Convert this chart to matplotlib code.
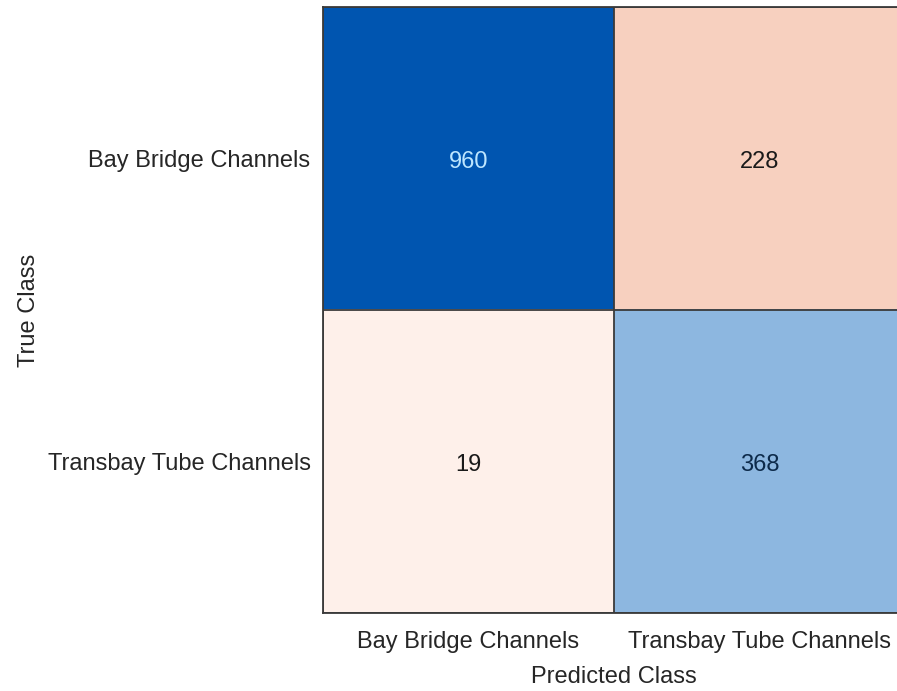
import matplotlib.pyplot as plt
import numpy as np
from matplotlib.colors import LinearSegmentedColormap, Normalize

plt.rcParams['font.family'] = ['Liberation Sans', 'DejaVu Sans']

classes = ["Bay Bridge Channels", "Transbay Tube Channels"]
counts = np.array([[960, 228],
                   [19, 368]])

# diagonal in blue, off-diagonal in red, both scaled by the largest count
diag_cmap = LinearSegmentedColormap.from_list("diag", ["#E6F5FF", "#0055B0"])
off_cmap = LinearSegmentedColormap.from_list("off", ["#FFF3EE", "#E0622A"])
norm = Normalize(0, counts.max())

n = len(classes)
rgb = np.zeros((n, n, 3))
for i in range(n):
    for j in range(n):
        cmap = diag_cmap if i == j else off_cmap
        rgb[i, j] = cmap(norm(counts[i, j]))[:3]

fig = plt.figure(figsize=(8.97, 6.91), dpi=100)
ax = fig.add_axes([323 / 897, 78 / 691, 582 / 897, 606 / 691])
ax.imshow(rgb, aspect="auto", interpolation="nearest")

for i in range(n):
    for j in range(n):
        v = counts[i, j]
        if i == j and norm(v) > 0.6:
            col = "#BDE6FF"
        elif i == j:
            col = "#0D2A4A"
        else:
            col = "#1A1A1A"
        ax.text(j, i + 0.01, str(v), ha="center", va="center", fontsize=17, color=col)

# cell borders
for k in np.arange(-0.5, n, 1.0):
    ax.axhline(k, color="#3A3A3A", lw=1.3)
    ax.axvline(k, color="#3A3A3A", lw=1.3)

ax.set_xticks(range(n))
ax.set_yticks(range(n))
ax.set_xticklabels(classes, fontsize=17, color="#262626")
ax.set_yticklabels(classes, fontsize=17, color="#262626")
ax.tick_params(axis="y", length=0, pad=9)
ax.tick_params(axis="x", length=0, pad=13)
ax.set_xlabel("Predicted Class", fontsize=17, color="#262626", labelpad=9)
ax.set_ylabel("True Class", fontsize=17, color="#262626")
ax.yaxis.set_label_coords(-0.487, 0.5)
for s in ax.spines.values():
    s.set_color("#3A3A3A")
    s.set_linewidth(1.3)

fig.savefig("out.png", dpi=100)
